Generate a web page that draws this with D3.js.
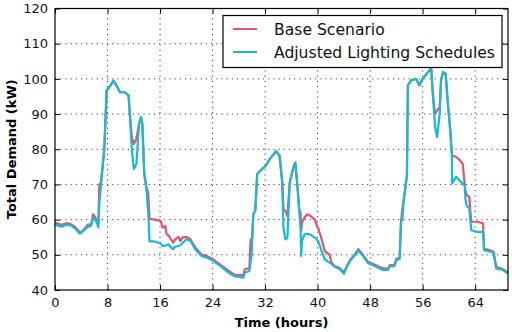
<!DOCTYPE html>
<html><head><meta charset="utf-8">
<script src="https://cdn.jsdelivr.net/npm/d3@7"></script>
<style>body{margin:0;background:#fff}svg{display:block}text{font-family:"DejaVu Sans",sans-serif}</style>
</head><body><svg id="c" width="512" height="332"></svg>
<script>
const hours = [0,0.5,1,1.5,2,2.5,3,3.5,3.8,4.2,4.6,5,5.5,5.8,6.1,6.4,6.6,6.75,7.0,7.3,7.5,7.7,7.86,8.4,8.9,9.4,9.9,10.6,11.2,11.4,11.7,12.0,12.4,12.8,13.1,13.3,13.6,13.9,14.2,14.4,15.2,16.1,16.4,16.8,17.0,17.3,17.5,18.0,18.3,18.8,19.1,19.4,20.0,20.6,21.3,21.6,22.3,23.1,24.1,25.1,26.1,27.2,27.9,28.7,28.9,29.6,29.8,29.95,30.2,30.5,30.8,31.2,32.1,32.7,33.7,34.2,34.6,34.8,35.1,35.4,35.75,36.3,36.6,36.9,37.2,37.4,37.5,37.6,38.0,38.4,38.8,39.6,39.9,40.1,40.6,41.1,41.8,42.1,42.6,43.4,44.0,44.5,45.1,45.6,46.2,46.9,47.7,48.7,49.9,50.7,51.0,51.7,52.0,52.5,52.7,52.9,53.1,53.25,53.6,53.75,54.26,55.0,55.5,56.0,56.8,57.3,57.55,57.9,58.2,58.6,58.8,59.1,59.5,59.8,60.2,60.45,60.5,61.1,61.6,62.1,62.4,62.5,62.7,63.1,63.4,64.4,65.2,65.35,66.8,67.2,68.2,69];
const baseScenario = [59.2,58.8,58.5,58.8,59.0,58.6,58.0,57.0,56.3,56.8,57.6,58.6,58.6,61.5,60.8,59.5,59.0,70.0,70.5,76.0,80.0,89.0,96.7,98.0,99.5,98.0,96.2,96.2,95.3,90.0,83.4,81.5,83.0,87.2,89.1,87.2,73.0,69.5,67.5,60.2,60.0,59.6,57.7,58.2,55.8,55.5,54.9,53.5,54.4,55.1,53.9,54.9,55.1,54.5,52.3,51.6,50.1,49.7,48.7,47.3,45.9,44.5,44.2,44.2,45.9,46.2,54.4,52.0,61.5,62.5,72.9,73.8,75.3,77.2,79.5,78.1,71.0,63.0,62.5,61.0,70.5,74.8,76.2,70.0,62.9,62.0,56.8,59.0,60.6,61.5,61.2,60.0,58.2,57.5,54.5,51.0,50.1,47.8,46.8,46.2,45.0,47.0,48.9,49.9,51.6,50.0,48.0,47.2,46.2,46.0,47.1,47.1,48.9,49.2,59.4,62.7,65.5,67.4,72.6,98.2,99.6,100,98.2,100,101.9,103.0,95.7,90.0,91.0,92.0,99.6,101.9,101.5,93.9,85.4,79.0,78.3,77.8,77.0,75.9,70.0,68.4,67.0,66.5,59.4,59.4,58.9,51.8,50.9,46.6,45.9,45.0];
const adjustedLighting = [58.8,58.2,58.0,58.4,58.6,58.2,57.6,56.6,56.0,56.6,57.3,58.0,58.2,60.7,60.0,59.0,57.8,64.5,70.0,76.0,80.0,89.0,96.7,98.0,99.5,98.0,96.2,96.2,95.3,90.0,80.0,74.4,75.8,87.2,89.1,87.2,73.0,69.2,62.0,53.8,53.8,53.2,52.5,52.6,52.8,53.0,52.4,51.6,52.3,52.5,52.7,53.3,54.4,54.0,51.8,51.1,49.7,49.2,48.3,46.9,45.4,44.0,43.7,43.5,44.9,45.4,48.0,50.0,61.5,62.5,72.9,73.8,75.3,77.2,79.5,78.1,71.0,57.7,54.4,54.9,70.5,74.8,76.2,70.0,62.5,57.7,49.7,53.9,55.8,56.0,55.8,54.9,54.3,53.9,51.1,48.7,47.8,47.4,46.6,45.9,44.6,46.8,48.7,49.7,51.2,49.7,47.6,46.8,45.7,45.7,46.7,46.8,48.5,48.8,59.4,60.0,65.5,67.4,72.6,98.2,99.6,100,98.2,100,101.9,103.0,95.7,86.3,83.5,90.1,99.6,101.9,101.5,93.9,85.4,77.8,70.3,72.2,71.2,70.2,69.8,66.0,64.1,63.2,57.0,56.5,56.5,51.3,50.7,46.1,45.7,44.7];
const xTicks = [0,8,16,24,32,40,48,56,64];
const yTicks = [40,50,60,70,80,90,100,110,120];
const seriesNames = ["Base Scenario","Adjusted Lighting Schedules"];
const seriesColors = ["#e8506e","#14bcd2"];

const svg = d3.select("#c");
const m = {l:55, r:4, t:8.5, b:42};
const W = 512, H = 332;
const x = d3.scaleLinear().domain([0,69]).range([m.l, W-m.r]);
const y = d3.scaleLinear().domain([40,120]).range([H-m.b, m.t]);

// grid
const g = svg.append("g");
g.selectAll("line.vx").data(xTicks.filter(d=>d>0)).join("line")
  .attr("x1",d=>x(d)).attr("x2",d=>x(d)).attr("y1",y(40)).attr("y2",y(120))
  .attr("stroke","#444").attr("stroke-width",1).attr("stroke-dasharray","1.2,4");
g.selectAll("line.hy").data(yTicks.filter(d=>d>40&&d<120)).join("line")
  .attr("x1",x(0)).attr("x2",x(69)).attr("y1",d=>y(d)).attr("y2",d=>y(d))
  .attr("stroke","#444").attr("stroke-width",1).attr("stroke-dasharray","1.2,4");

const line = d3.line().x((d,i)=>x(hours[i])).y(d=>y(d));
[baseScenario, adjustedLighting].forEach((s,k)=>{
  svg.append("path").attr("d", line(s)).attr("fill","none")
    .attr("stroke", seriesColors[k]).attr("stroke-width",2.2).attr("stroke-linejoin","round");
});

// axes
const ax = svg.append("g").attr("transform",`translate(0,${y(40)})`)
  .call(d3.axisBottom(x).tickValues(xTicks).tickSizeInner(-5).tickSizeOuter(0).tickPadding(8));
const axT = svg.append("g").attr("transform",`translate(0,${y(120)})`)
  .call(d3.axisTop(x).tickValues(xTicks).tickSizeInner(-5).tickSizeOuter(0).tickFormat(""));
const ay = svg.append("g").attr("transform",`translate(${x(0)},0)`)
  .call(d3.axisLeft(y).tickValues(yTicks).tickSizeInner(-5).tickSizeOuter(0).tickPadding(7));
const ayR = svg.append("g").attr("transform",`translate(${x(69)},0)`)
  .call(d3.axisRight(y).tickValues(yTicks).tickSizeInner(-5).tickSizeOuter(0).tickFormat(""));
[ax,axT,ay,ayR].forEach(a=>{
  a.select(".domain").remove();
  a.selectAll("line").attr("stroke","#000");
  a.selectAll("text").attr("font-size",13).attr("fill","#111").attr("font-family","DejaVu Sans, sans-serif");
});
svg.append("rect").attr("x",x(0)).attr("y",y(120)).attr("width",x(69)-x(0)).attr("height",y(40)-y(120))
  .attr("fill","none").attr("stroke","#000").attr("stroke-width",1.2);

svg.append("text").attr("x",(x(0)+x(69))/2).attr("y",327).attr("text-anchor","middle")
  .attr("font-size",13).attr("font-weight","bold").text("Time (hours)");
svg.append("text").attr("transform",`translate(16,${(y(40)+y(120))/2}) rotate(-90)`).attr("text-anchor","middle")
  .attr("font-size",13).attr("font-weight","bold").text("Total Demand (kW)");

// legend
const lg = svg.append("g");
lg.append("rect").attr("x",223).attr("y",15.5).attr("width",279).attr("height",52)
  .attr("fill","#fff").attr("stroke","#000").attr("stroke-width",1.2);
seriesNames.forEach((n,k)=>{
  const yy = 29 + k*23;
  lg.append("line").attr("x1",233).attr("x2",257).attr("y1",yy).attr("y2",yy)
    .attr("stroke",seriesColors[k]).attr("stroke-width",2);
  lg.append("text").attr("x",274).attr("y",yy+5.5).attr("font-size",15.6).attr("fill","#111").text(n);
});
</script></body></html>
